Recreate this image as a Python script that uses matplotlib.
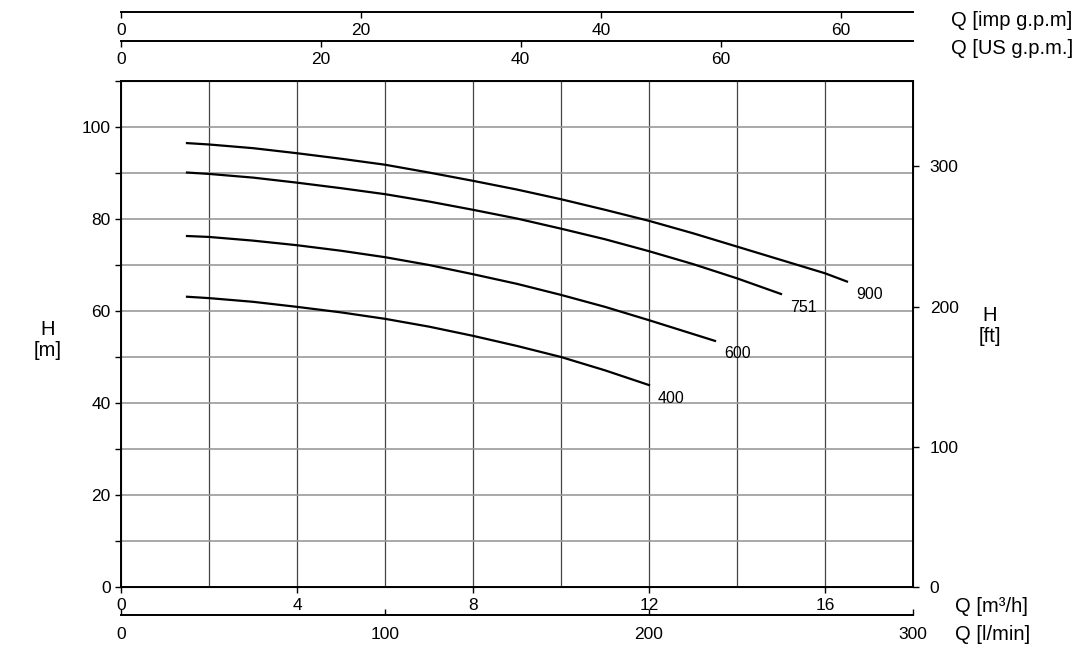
import numpy as np
import matplotlib
matplotlib.use("Agg")
import matplotlib.pyplot as plt

plt.rcParams['font.family'] = ['Liberation Sans', 'DejaVu Sans']

# pump curves: Q [m3/h] vs H [m]
q900 = [1.5, 2, 3, 4, 5, 6, 7, 8, 9, 10, 11, 12, 13, 14, 15, 16, 16.5]
h900 = [96.5, 96.2, 95.4, 94.3, 93.1, 91.8, 90.1, 88.3, 86.4, 84.3, 82.0, 79.6, 76.9, 74.0, 71.1, 68.2, 66.4]
q751 = [1.5, 2, 3, 4, 5, 6, 7, 8, 9, 10, 11, 12, 13, 14, 15]
h751 = [90.1, 89.8, 89.0, 87.9, 86.7, 85.4, 83.8, 82.0, 80.1, 77.9, 75.6, 73.0, 70.2, 67.1, 63.7]
q600 = [1.5, 2, 3, 4, 5, 6, 7, 8, 9, 10, 11, 12, 13, 13.5]
h600 = [76.3, 76.1, 75.3, 74.3, 73.1, 71.7, 70.0, 68.0, 65.9, 63.5, 60.9, 58.0, 55.0, 53.5]
q400 = [1.5, 2, 3, 4, 5, 6, 7, 8, 9, 10, 11, 12]
h400 = [63.1, 62.8, 62.0, 60.9, 59.7, 58.3, 56.6, 54.6, 52.4, 50.0, 47.1, 43.9]
curve_names = ['900', '751', '600', '400']

# scale ticks
m3h_ticks = [0, 4, 8, 12, 16]
lmin_ticks = [0, 100, 200, 300]
usgpm_ticks = [0, 20, 40, 60]
impgpm_ticks = [0, 20, 40, 60]
ft_ticks = [0, 100, 200, 300]
m_ticks = [0, 20, 40, 60, 80, 100]

QMAX = 18
HMAX = 110
LMIN = 1000 / 60
USGPM = 1000 / 60 / 3.78541
IMPGPM = 1000 / 60 / 4.54609
FT = 3.28084

TS = 12.5   # tick label size
FS = 14.5   # axis label size

fig = plt.figure(figsize=(10.8, 6.56), dpi=100)
L, B, W, H = 121 / 1080, 1 - 587 / 656, 792 / 1080, 506 / 656
ax = fig.add_axes([L, B, W, H])

ax.set_xlim(0, QMAX)
ax.set_ylim(0, HMAX)

# grid
for x in np.arange(2, 17, 2):
    ax.axvline(x, color='#444444', lw=0.9, zorder=1)
for y in np.arange(10, 110, 10):
    ax.axhline(y, color='#9a9a9a', lw=1.2, zorder=1)

for q, h, name in zip([q900, q751, q600, q400], [h900, h751, h600, h400], curve_names):
    ax.plot(q, h, color='black', lw=1.6, zorder=3)
    ax.text(q[-1] + 0.2, h[-1] - 1.2, name, fontsize=11.5, ha='left', va='top')

ax.set_xticks(m3h_ticks)
ax.set_yticks(np.arange(0, 111, 10))
ax.set_yticklabels([str(v) if v in m_ticks else '' for v in range(0, 111, 10)])
ax.tick_params(axis='both', direction='out', length=4, width=1, labelsize=TS, colors='black')
ax.tick_params(axis='x', pad=3.8)
for s in ax.spines.values():
    s.set_linewidth(1.4)

# right H [ft]
axr = ax.twinx()
axr.set_ylim(0, HMAX * FT)
axr.set_yticks(ft_ticks)
axr.tick_params(axis='y', direction='out', length=4, width=1, labelsize=TS, pad=8)


def scale_axes(ypix, xmax, ticks, direction, pad):
    a = fig.add_axes([L, 1 - ypix / 656, W, 0.0001])
    a.patch.set_visible(False)
    for k in ['left', 'right', 'top']:
        a.spines[k].set_visible(False)
    a.spines['bottom'].set_linewidth(1.4)
    a.set_xlim(0, xmax)
    a.set_xticks(ticks)
    a.set_yticks([])
    a.tick_params(axis='x', direction=direction, length=4, width=1, labelsize=TS, pad=pad)
    return a


scale_axes(615, QMAX * LMIN, lmin_ticks, 'in', 8.8)
scale_axes(41, QMAX * USGPM, usgpm_ticks, 'out', 4)
scale_axes(12, QMAX * IMPGPM, impgpm_ticks, 'out', 4)

fig.text(48 / 1080, 1 - 340 / 656, 'H\n[m]', ha='center', va='center', fontsize=FS, linespacing=1.1)
fig.text(990 / 1080, 1 - 326 / 656, 'H\n[ft]', ha='center', va='center', fontsize=FS, linespacing=1.1)
fig.text(951 / 1080, 1 - 20 / 656, 'Q [imp g.p.m]', ha='left', va='center', fontsize=FS)
fig.text(951 / 1080, 1 - 48 / 656, 'Q [US g.p.m.]', ha='left', va='center', fontsize=FS)
fig.text(955 / 1080, 1 - 607 / 656, 'Q [m³/h]', ha='left', va='center', fontsize=FS)
fig.text(955 / 1080, 1 - 634 / 656, 'Q [l/min]', ha='left', va='center', fontsize=FS)

plt.savefig('out.png', dpi=100)
plt.close()
